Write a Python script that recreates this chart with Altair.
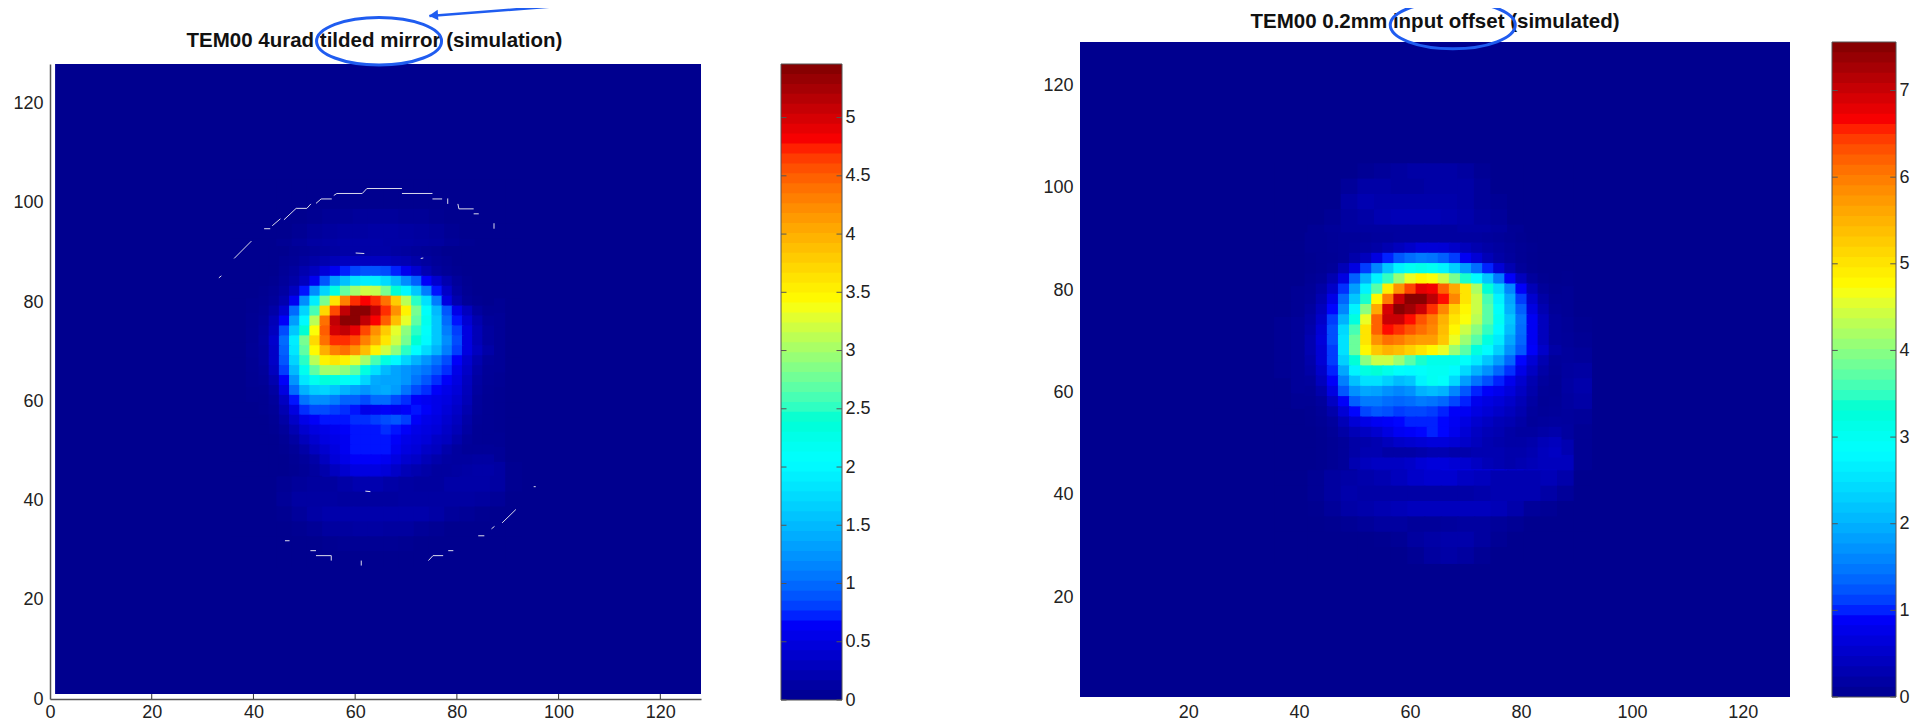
import altair as alt
import pandas as pd

X_CENTERS = [37, 40, 43, 46, 49, 52, 55, 58, 61, 64, 67, 70, 73, 76, 79, 82, 85, 88, 91]
Y_CENTERS = [103, 100, 97, 94, 91, 88, 85, 82, 79, 76, 73, 70, 67, 64, 61, 58, 55, 52, 49, 46, 43, 40, 37, 34, 31, 28]
FINE_X = [42, 44, 46, 48, 50, 52, 54, 56, 58, 60, 62, 64, 66, 68, 70, 72, 74, 76, 78, 80, 82, 84, 86]
FINE_Y = [90, 88, 86, 84, 82, 80, 78, 76, 74, 72, 70, 68, 66, 64, 62, 60, 58, 56, 54, 52, 50, 48, 46]

LEFT_ROWS = [
 [0,0,0,0,0,0,0,0,0,0,0,0,0,0,0,0,0,0,0],
 [0,0,0,0,0,0,0,0,0,0,0,0,0,0,0,0,0,0,0],
 [0,0,0,0,0,.02,.05,.05,.08,.08,.08,.05,.05,.02,0,0,0,0,0],
 [0,0,0,0,.03,.08,.1,.12,.12,.14,.14,.12,.1,.08,.03,0,0,0,0],
 [0,0,0,.03,.08,.12,.14,.16,.16,.16,.14,.14,.12,.1,.06,.02,0,0,0],
 [0,0,.02,.05,.08,.15,.2,.25,.3,.3,.28,.2,.14,.1,.06,.03,0,0,0],
 [0,0,.02,.06,.15,.35,.6,.9,1.1,1.15,1.0,.75,.45,.2,.08,.03,0,0,0],
 [0,0,.04,.2,.6,1.1,1.7,2.4,3.0,3.2,2.9,2.2,1.4,.8,.35,.1,.02,0,0],
 [0,.02,.1,.5,1.2,2.1,3.3,4.3,4.8,4.9,4.5,3.7,2.7,1.6,.8,.3,.08,.03,0],
 [0,.03,.2,.8,1.8,3.2,4.6,5.2,5.4,5.2,4.6,3.7,2.7,1.8,.95,.4,.15,.05,0],
 [0,.04,.3,1.0,2.3,3.5,4.7,4.9,4.7,4.2,3.5,3.0,2.4,1.7,1.0,.45,.18,.05,0],
 [0,.05,.35,1.1,2.3,3.3,3.8,3.9,3.7,3.4,2.8,2.3,1.9,1.3,.8,.4,.15,.05,0],
 [0,.04,.3,1.0,2.0,2.7,2.9,2.8,2.5,2.1,1.9,1.6,1.3,.9,.55,.3,.12,.05,0],
 [0,.03,.25,.8,1.6,2.1,1.9,1.5,1.15,1.25,1.3,1.0,.8,.6,.4,.2,.08,.03,0],
 [0,.02,.15,.5,1.0,1.2,1.15,.9,.95,1.2,1.15,.8,.65,.5,.35,.2,.06,.02,0],
 [0,0,.06,.3,.6,.75,.8,.7,.55,.5,.55,.6,.55,.45,.3,.15,.05,.02,0],
 [0,0,.03,.15,.35,.5,.6,.65,.7,.75,.75,.55,.45,.35,.25,.1,.05,.02,0],
 [0,0,.02,.06,.2,.35,.5,.5,.5,.55,.5,.45,.4,.3,.15,.08,.05,.03,0],
 [0,0,0,.03,.08,.2,.35,.45,.55,.6,.5,.4,.3,.2,.1,.08,.08,.05,0],
 [0,0,0,.02,.05,.08,.2,.3,.4,.4,.35,.25,.15,.1,.1,.15,.15,.12,.02],
 [0,0,0,.04,.08,.1,.1,.15,.2,.2,.15,.12,.1,.1,.15,.15,.15,.12,.02],
 [0,0,0,.06,.12,.12,.12,.1,.1,.1,.1,.12,.12,.12,.12,.12,.1,.06,0],
 [0,0,0,.02,.08,.14,.18,.18,.18,.18,.18,.18,.18,.14,.08,.05,.02,0,0],
 [0,0,0,0,.02,.05,.1,.1,.12,.12,.1,.1,.06,.03,0,0,0,0,0],
 [0,0,0,0,0,0,.02,.03,.03,.03,.03,.02,0,0,0,0,0,0,0],
 [0,0,0,0,0,0,0,0,0,0,0,0,0,0,0,0,0,0,0],
]

LEFT_FINE = [
 [0,0,0,.03,.05,.08,.1,.12,.15,.15,.15,.15,.15,.12,.1,.08,.05,.03,0,0,0,0,0],
 [0,0,.03,.05,.1,.15,.2,.25,.3,.3,.3,.3,.3,.25,.22,.15,.1,.06,.03,0,0,0,0],
 [0,0,.05,.1,.2,.3,.45,.6,.72,.82,.88,.88,.85,.72,.58,.4,.22,.1,.05,.02,0,0,0],
 [0,.02,.08,.15,.3,.6,.9,1.3,1.55,1.8,1.9,1.9,1.75,1.5,1.2,.95,.65,.4,.2,.08,.02,0,0],
 [.02,.05,.12,.3,.7,1.2,1.7,2.3,2.7,3.0,3.2,3.15,2.8,2.4,2.0,1.6,1.1,.7,.35,.12,.03,0,0],
 [.03,.08,.2,.6,1.2,1.9,2.8,3.6,4.3,4.7,4.8,4.7,4.4,3.8,3.1,2.5,1.8,1.1,.5,.2,.06,.02,0],
 [.05,.15,.4,1.0,1.7,2.6,3.7,4.6,5.1,5.4,5.4,5.1,4.7,4.2,3.5,2.8,2.1,1.5,.9,.55,.3,.1,.03],
 [.08,.25,.65,1.3,2.0,3.1,4.4,5.1,5.4,5.4,5.1,4.8,4.5,3.9,3.3,2.7,2.2,1.6,1.0,.7,.42,.2,.07],
 [.1,.3,.85,1.6,2.4,3.4,4.5,5.0,5.1,4.9,4.6,4.2,3.8,3.3,2.9,2.5,2.1,1.6,1.1,.8,.5,.25,.1],
 [.12,.38,1.0,1.9,2.8,3.7,4.4,4.7,4.7,4.6,4.3,4.0,3.6,3.2,2.8,2.4,2.0,1.6,1.2,.85,.5,.25,.1],
 [.1,.35,.95,1.85,2.7,3.45,4.0,4.3,4.4,4.2,3.9,3.5,3.2,2.9,2.5,2.05,1.75,1.45,1.1,.8,.5,.3,.15],
 [.1,.35,.9,1.7,2.5,3.1,3.5,3.6,3.5,3.3,3.0,2.6,2.3,2.0,1.7,1.45,1.25,1.05,.85,.65,.4,.2,.08],
 [.08,.3,.8,1.5,2.2,2.7,3.0,3.0,2.9,2.7,2.3,1.8,1.5,1.35,1.25,1.15,1.05,.9,.75,.55,.35,.15,.06],
 [.06,.2,.65,1.25,1.85,2.2,2.35,2.3,2.15,2.0,1.7,1.4,1.35,1.35,1.25,1.05,.9,.75,.65,.5,.3,.12,.05],
 [.03,.12,.5,1.0,1.45,1.65,1.7,1.6,1.45,1.35,1.25,1.35,1.4,1.3,1.05,.85,.75,.65,.55,.45,.28,.1,.04],
 [.02,.08,.32,.7,1.05,1.2,1.2,1.1,.95,.95,.85,1.0,1.0,.85,.75,.65,.6,.55,.5,.4,.25,.08,.03],
 [.02,.05,.22,.5,.75,.85,.85,.8,.75,.7,.55,.6,.65,.6,.65,.7,.65,.55,.45,.35,.2,.07,.03],
 [0,.03,.14,.35,.55,.65,.7,.7,.7,.75,.75,.8,.85,.9,.8,.65,.55,.5,.4,.3,.15,.05,.03],
 [0,.02,.08,.22,.4,.5,.55,.6,.65,.7,.7,.7,.75,.7,.65,.55,.5,.45,.35,.25,.12,.04,.03],
 [0,0,.04,.12,.28,.4,.5,.55,.6,.7,.7,.7,.7,.65,.55,.5,.45,.35,.3,.18,.08,.04,.03],
 [0,0,.02,.06,.15,.3,.4,.5,.6,.7,.7,.7,.7,.6,.5,.45,.35,.3,.18,.1,.06,.06,.06],
 [0,0,0,.03,.08,.15,.3,.45,.55,.65,.65,.65,.6,.5,.4,.35,.25,.18,.12,.1,.1,.12,.12],
 [0,0,0,.02,.05,.1,.18,.3,.4,.5,.5,.5,.45,.35,.25,.2,.15,.1,.1,.12,.14,.16,.16],
]

RIGHT_ROWS = [
 [0,0,0,0,0,.05,.1,.15,.2,.2,.2,.15,.05,0,0,0,0,0,0],
 [0,0,0,0,.1,.2,.2,.15,.15,.2,.2,.2,.1,0,0,0,0,0,0],
 [0,0,0,0,.2,.3,.25,.25,.25,.25,.25,.2,.1,.05,0,0,0,0,0],
 [0,0,0,.05,.15,.2,.3,.35,.35,.35,.3,.25,.15,.1,0,0,0,0,0],
 [0,0,.05,.1,.15,.15,.15,.15,.15,.15,.15,.2,.2,.15,.05,0,0,0,0],
 [0,0,.05,.1,.1,.2,.35,.5,.55,.55,.45,.3,.2,.15,.1,.05,0,0,0],
 [0,0,.05,.1,.3,.8,1.3,1.9,2.3,2.4,2.0,1.5,.9,.4,.15,.05,0,0,0],
 [0,0,.05,.2,.6,1.5,2.5,3.6,4.4,4.8,4.7,4.0,3.0,2.0,1.0,.4,.1,.02,0],
 [0,.05,.1,.4,1.3,2.8,4.5,6.0,7.0,7.0,6.3,5.1,3.8,2.4,1.2,.5,.1,.05,0],
 [0,.05,.15,.7,2.0,4.0,6.2,7.3,7.5,7.0,6.0,5.0,3.9,2.6,1.4,.6,.15,.05,0],
 [.05,.1,.25,.9,2.7,4.8,6.7,7.0,6.5,5.8,5.0,4.5,3.4,2.4,1.3,.6,.15,.08,.03],
 [.05,.1,.35,1.2,3.1,5.2,6.2,6.0,5.7,5.4,4.7,3.6,2.9,2.0,1.1,.5,.15,.1,.05],
 [.05,.1,.4,1.4,3.2,4.8,5.0,4.7,4.3,3.7,3.3,3.0,2.4,1.6,.9,.4,.12,.12,.1],
 [.05,.1,.4,1.3,2.8,3.4,3.2,2.8,2.4,2.5,2.5,2.2,1.7,1.2,.7,.3,.1,.15,.18],
 [0,.1,.3,1.0,1.9,2.2,1.9,1.5,2.1,2.8,2.3,1.5,1.1,.8,.5,.2,.1,.18,.25],
 [0,.05,.15,.6,1.2,1.4,1.2,1.1,1.1,1.2,1.1,.9,.7,.5,.3,.15,.1,.15,.2],
 [0,0,.1,.3,.7,1.0,1.05,.95,.9,1.0,1.0,.9,.8,.6,.4,.2,.12,.12,.1],
 [0,0,.05,.15,.4,.6,.75,.85,.9,1.05,1.0,.85,.7,.5,.3,.15,.2,.15,.05],
 [0,0,.03,.1,.2,.3,.35,.35,.3,.3,.3,.3,.4,.4,.4,.3,.35,.3,.05],
 [0,0,.03,.1,.1,.3,.4,.4,.5,.6,.7,.7,.7,.7,.6,.5,.45,.4,.05],
 [0,0,.05,.15,.2,.25,.3,.4,.5,.55,.55,.45,.4,.3,.3,.3,.35,.25,0],
 [0,0,.05,.15,.25,.2,.2,.2,.2,.2,.2,.2,.25,.3,.3,.3,.2,.1,0],
 [0,0,.02,.1,.2,.25,.3,.35,.4,.4,.4,.4,.4,.35,.25,.1,.05,0,0],
 [0,0,0,.02,.05,.1,.15,.15,.1,.1,.12,.15,.15,.1,.05,0,0,0,0],
 [0,0,0,0,0,0,.02,.05,.15,.2,.25,.25,.15,.05,0,0,0,0,0],
 [0,0,0,0,0,0,0,0,.05,.15,.2,.15,.05,0,0,0,0,0,0],
]

RIGHT_FINE = [
 [.05,.05,.08,.1,.1,.1,.12,.12,.15,.15,.15,.15,.15,.15,.15,.15,.12,.1,.06,.03,0,0,0],
 [.05,.05,.08,.1,.12,.15,.2,.3,.4,.5,.62,.62,.6,.5,.38,.28,.2,.15,.1,.05,.03,0,0],
 [.03,.05,.06,.1,.25,.4,.7,1.0,1.25,1.4,1.5,1.45,1.3,1.1,.85,.6,.35,.2,.12,.05,.02,0,0],
 [.03,.05,.1,.35,.7,1.1,1.6,2.2,2.7,3.0,3.1,3.0,2.7,2.3,1.8,1.4,1.0,.6,.3,.1,.03,0,0],
 [.05,.1,.3,.7,1.3,2.0,2.7,3.5,4.1,4.6,4.8,4.7,4.4,3.9,3.4,2.8,2.2,1.5,.9,.4,.12,.03,0],
 [.08,.2,.5,1.05,1.8,2.7,3.7,4.9,5.8,6.4,6.8,6.7,6.2,5.6,5.0,4.2,3.3,2.4,1.6,.9,.35,.1,.03],
 [.1,.3,.75,1.35,2.2,3.4,4.8,6.0,7.0,7.5,7.5,7.1,6.6,5.9,5.0,4.4,3.6,2.7,1.9,1.1,.55,.2,.05],
 [.15,.4,.95,1.6,2.7,4.0,5.6,6.9,7.5,7.3,7.0,6.5,5.9,5.2,4.8,4.4,3.7,2.9,2.0,1.3,.7,.3,.08],
 [.2,.5,1.1,2.0,3.2,4.6,6.2,7.0,7.0,6.6,6.3,6.0,5.5,5.0,4.7,4.3,3.7,3.0,2.2,1.45,.85,.4,.12],
 [.25,.6,1.2,2.4,3.6,5.0,6.2,6.6,6.5,6.3,6.1,5.9,5.4,4.8,4.4,4.0,3.5,2.8,2.1,1.4,.85,.4,.12],
 [.3,.65,1.2,2.5,3.8,5.0,5.8,6.1,6.0,5.8,5.7,5.7,5.3,4.6,4.1,3.7,3.2,2.6,1.9,1.35,.85,.4,.12],
 [.3,.6,1.1,2.5,3.8,4.8,5.3,5.5,5.4,5.2,5.0,4.8,4.6,4.1,3.7,3.2,2.8,2.3,1.7,1.25,.9,.5,.2],
 [.25,.6,1.1,2.3,3.3,4.0,4.4,4.4,4.1,3.7,3.4,3.1,3.1,3.1,2.9,2.6,2.2,1.8,1.35,.95,.6,.3,.1],
 [.2,.5,1.0,1.9,2.7,3.2,3.3,3.1,2.9,2.8,2.9,3.0,3.0,2.8,2.4,2.0,1.7,1.35,1.05,.75,.45,.2,.08],
 [.12,.4,.9,1.55,2.15,2.5,2.5,2.3,2.1,2.2,2.7,3.0,2.9,2.4,1.8,1.45,1.2,1.0,.8,.55,.3,.12,.06],
 [.08,.25,.7,1.25,1.7,1.9,1.85,1.7,1.6,1.7,2.0,2.1,2.0,1.6,1.25,1.0,.9,.8,.65,.45,.25,.08,.06],
 [.05,.12,.45,.9,1.3,1.5,1.5,1.4,1.35,1.4,1.5,1.45,1.35,1.15,1.0,.8,.7,.62,.5,.35,.18,.06,.08],
 [.03,.08,.25,.6,.95,1.15,1.25,1.2,1.1,1.15,1.15,1.1,1.0,.9,.85,.7,.6,.5,.4,.28,.12,.08,.1],
 [.02,.05,.12,.35,.6,.75,.85,.9,.95,1.0,1.0,1.0,.95,.85,.7,.55,.45,.35,.3,.2,.1,.12,.14],
 [0,.03,.08,.2,.35,.45,.55,.7,.85,.9,.95,1.0,.95,.8,.6,.45,.35,.3,.2,.15,.15,.2,.25],
 [0,.02,.05,.1,.2,.25,.3,.4,.5,.55,.6,.65,.65,.6,.5,.4,.3,.25,.2,.2,.25,.35,.4],
 [0,.02,.05,.1,.2,.3,.3,.2,.2,.2,.25,.3,.3,.25,.25,.3,.3,.3,.25,.25,.3,.4,.45],
 [0,.02,.05,.1,.3,.4,.45,.45,.45,.5,.6,.65,.65,.6,.55,.45,.35,.3,.25,.3,.35,.4,.4],
]

# white stray contour fragments in the left panel: x, x2, y, y2
WX1 = [33.2,36.2,42.1,43.7,46.0,48.4,50.5,52.3,53.3,55.8,56.4,61.4,62.3,69.2,75.2,78.2,80.2,80.4,83.3,87.3,60.1,72.9,62.0,95.1,91.6,87.4,85.4,79.3,77.3,75.3,61.2,55.3,52.3,51.2,47.1]
WX2 = [33.7,39.6,43.3,45.3,48.4,50.5,51.3,53.3,55.4,56.4,61.4,62.3,69.2,75.2,77.1,78.2,80.4,83.3,84.3,87.3,61.8,73.4,63.0,95.5,88.9,86.8,84.2,78.3,75.3,74.4,61.2,55.3,55.3,52.3,46.2]
WY1 = [84.9,88.8,94.8,95.4,96.6,98.9,98.9,99.9,100.8,101.5,101.9,101.9,102.9,101.9,100.8,100.9,99.8,98.8,97.8,95.9,89.9,88.8,41.9,42.8,38.2,34.8,32.9,29.9,28.9,28.9,27.9,28.9,28.9,29.9,31.9]
WY2 = [85.3,92.3,94.8,96.8,98.9,98.9,99.8,100.8,100.8,101.9,101.9,102.9,102.9,101.9,100.8,99.8,98.8,98.8,97.8,94.8,89.8,88.9,41.8,42.8,35.5,34.3,32.9,29.9,28.9,27.9,26.9,27.9,28.9,29.9,31.9]

LEFT_TICKS = [0, 20, 40, 60, 80, 100, 120]
RIGHT_TICKS = [20, 40, 60, 80, 100, 120]
LEFT_CB_TICKS = [0, .5, 1, 1.5, 2, 2.5, 3, 3.5, 4, 4.5, 5]
RIGHT_CB_TICKS = [0, 1, 2, 3, 4, 5, 6, 7]
LEFT_MAX = 5.46
RIGHT_MAX = 7.56
BANDS = list(range(64))
JET_POS = [0, .125, .375, .625, .875, 1]
JET = ["#00008f", "#0000ff", "#00ffff", "#ffff00", "#ff0000", "#800000"]
OVERLAP = 0.3

FONT = "Liberation Sans"
TXT = "#222222"
EDGE = "#555555"
BLUE = "#1f5cf0"
ELLIPSE = "M-1,0 A1,0.38 0 1,1 1,0 A1,0.38 0 1,1 -1,0 Z"


def color(vmax):
    return alt.Color("v:Q", legend=None, scale=alt.Scale(domain=[p * vmax for p in JET_POS], range=JET, clamp=True))


def cells(rows, fine, lo, hi):
    recs = [dict(x0=lo, x1=hi, y0=lo, y1=hi, v=0)]
    for yc, row in zip(Y_CENTERS, rows):
        for xc, v in zip(X_CENTERS, row):
            recs.append(dict(x0=xc - 1.5, x1=xc + 1.5 + OVERLAP, y0=yc - 1.5, y1=yc + 1.5 + OVERLAP, v=v))
    for yc, row in zip(FINE_Y, fine):
        for xc, v in zip(FINE_X, row):
            recs.append(dict(x0=xc - 1, x1=xc + 1 + OVERLAP, y0=yc - 1, y1=yc + 1 + OVERLAP, v=v))
    return pd.DataFrame(recs)


def panel(rows, fine, lo, hi, xs, ys, vmax, title, tx, ty, ex, ey, show_axis, ticks):
    base = alt.Chart(cells(rows, fine, lo, hi))
    heat = base.mark_rect(strokeWidth=0).encode(
        x=alt.X("x0:Q", scale=xs, title=None, axis=alt.Axis(
            values=ticks, ticks=False, domain=show_axis, domainColor=EDGE, domainWidth=1.5, grid=False,
            labelFont=FONT, labelFontSize=18, labelColor=TXT, labelPadding=4, labelFlush=False, labelOverlap=False)),
        x2="x1:Q",
        y=alt.Y("y0:Q", scale=ys, title=None, axis=alt.Axis(
            values=ticks, ticks=False, domain=show_axis, domainColor=EDGE, domainWidth=1.5, grid=False,
            labelFont=FONT, labelFontSize=18, labelColor=TXT, labelPadding=7, labelFlush=False, labelOverlap=False)),
        y2="y1:Q",
        color=color(vmax),
    )
    ttl = alt.Chart(pd.DataFrame(dict(x=[tx], y=[ty], t=[title]))).mark_text(
        font=FONT, fontSize=20.5, fontWeight="bold", color="#111111").encode(
        x=alt.X("x:Q", scale=xs), y=alt.Y("y:Q", scale=ys), text="t:N")
    ell = alt.Chart(pd.DataFrame(dict(x=[ex], y=[ey]))).mark_point(
        shape=ELLIPSE, size=15625, filled=False, stroke=BLUE, strokeWidth=3, opacity=1).encode(
        x=alt.X("x:Q", scale=xs), y=alt.Y("y:Q", scale=ys))
    return [heat, ttl, ell]


# left panel
xs_l = alt.Scale(domain=[0, 128], range=[0, 651], nice=False, zero=False)
ys_l = alt.Scale(domain=[0, 128], range=[657, 22], nice=False, zero=False)
L = panel(LEFT_ROWS, LEFT_FINE, 1, 128, xs_l, ys_l, LEFT_MAX, "TEM00 4urad tilded mirror (simulation)", 63.8, 132.6, 64.7, 132.6, True, LEFT_TICKS)
white = alt.Chart(pd.DataFrame(dict(x=WX1, x2=WX2, y=WY1, y2=WY2))).mark_rule(color="#dcdcec", strokeWidth=1).encode(
    x=alt.X("x:Q", scale=xs_l), x2="x2:Q", y=alt.Y("y:Q", scale=ys_l), y2="y2:Q")
arrow = alt.Chart(pd.DataFrame(dict(x=[74.6], x2=[115.6], y=[137.7], y2=[140.9]))).mark_rule(color=BLUE, strokeWidth=2.5).encode(
    x=alt.X("x:Q", scale=xs_l), x2="x2:Q", y=alt.Y("y:Q", scale=ys_l), y2="y2:Q")
head = alt.Chart(pd.DataFrame(dict(x=[75.4], y=[137.8]))).mark_point(shape="triangle-left", filled=True, size=110, color=BLUE, opacity=1, angle=356).encode(
    x=alt.X("x:Q", scale=xs_l), y=alt.Y("y:Q", scale=ys_l))
xt = alt.Chart(pd.DataFrame(dict(x=LEFT_TICKS[1:], y=[0] * 6, y2=[1] * 6))).mark_rule(color="#333333").encode(
    x=alt.X("x:Q", scale=xs_l), y=alt.Y("y:Q", scale=ys_l), y2="y2:Q")
left = alt.layer(*L[:1], white, xt, *L[1:], arrow, head).properties(width=731, height=657)

# right panel
xs_r = alt.Scale(domain=[0.5, 128.5], range=[0, 710], nice=False, zero=False)
ys_r = alt.Scale(domain=[0.5, 128.5], range=[655, 0], nice=False, zero=False)
R = panel(RIGHT_ROWS, RIGHT_FINE, 0.5, 128.5, xs_r, ys_r, RIGHT_MAX, "TEM00 0.2mm input offset (simulated)", 64.5, 132.5, 67.7, 131.8, False, RIGHT_TICKS)
right = alt.layer(*R).properties(width=752, height=657)


def colorbar(vmax, ticks, y_range, width, gap):
    xs = alt.Scale(domain=[0, 1], range=[0, width], nice=False, zero=False)
    ys = alt.Scale(domain=[0, vmax], range=y_range, nice=False, zero=False)
    df = pd.DataFrame(dict(
        x0=[0] * 64, x1=[1] * 64,
        y0=[b * vmax / 64 for b in BANDS], y1=[min(b + 1.2, 64) * vmax / 64 for b in BANDS],
        v=[(b + .5) * vmax / 64 for b in BANDS]))
    bars = alt.Chart(df).mark_rect(strokeWidth=0).encode(
        x=alt.X("x0:Q", scale=xs, axis=None), x2="x1:Q",
        y=alt.Y("y0:Q", scale=ys, title=None, axis=alt.Axis(
            orient="right", values=ticks, ticks=False, domain=False, grid=False, offset=-gap, format="~g",
            labelFont=FONT, labelFontSize=18, labelColor=TXT, labelPadding=3, labelFlush=False, labelOverlap=False)),
        y2="y1:Q", color=color(vmax))
    frame = alt.Chart(pd.DataFrame(dict(x=[0], x2=[1], y=[0], y2=[vmax]))).mark_rect(
        fillOpacity=0, stroke=EDGE, strokeWidth=1).encode(
        x=alt.X("x:Q", scale=xs), x2="x2:Q", y=alt.Y("y:Q", scale=ys), y2="y2:Q")
    tl = alt.Chart(pd.DataFrame(dict(x=[0] * len(ticks), x2=[.09] * len(ticks), y=ticks))).mark_rule(color=EDGE).encode(
        x=alt.X("x:Q", scale=xs), x2="x2:Q", y=alt.Y("y:Q", scale=ys))
    tr = alt.Chart(pd.DataFrame(dict(x=[.91] * len(ticks), x2=[1] * len(ticks), y=ticks))).mark_rule(color=EDGE).encode(
        x=alt.X("x:Q", scale=xs), x2="x2:Q", y=alt.Y("y:Q", scale=ys))
    return alt.layer(bars, frame, tl, tr).properties(width=width + gap, height=657)


cb_l = colorbar(LEFT_MAX, LEFT_CB_TICKS, [658, 22], 61, 238)
cb_r = colorbar(RIGHT_MAX, RIGHT_CB_TICKS, [655, 0], 64, 0)

chart = alt.hconcat(left, cb_l, right, cb_r, spacing=0, bounds="flush").resolve_scale(
    color="independent", x="independent", y="independent"
).properties(
    autosize=alt.AutoSizeParams(type="none"),
    padding={"left": 42, "top": 34, "right": 1867, "bottom": 683},
    background="white",
).configure_view(stroke=None)

chart.save("out.html", embed_options={"renderer": "svg", "actions": False})
